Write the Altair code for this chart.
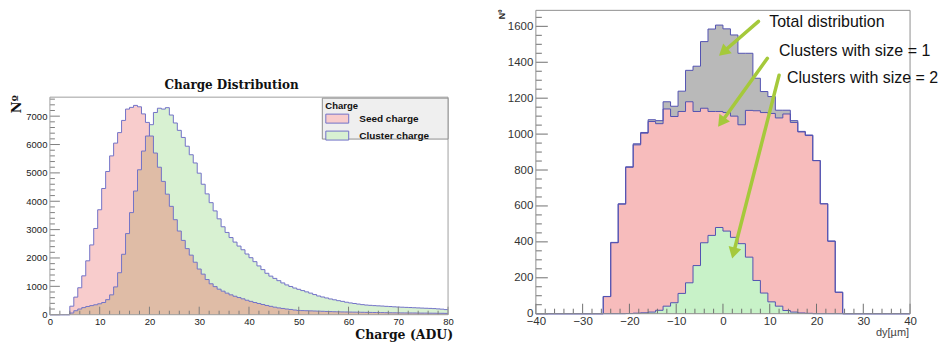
import math
import altair as alt
import pandas as pd

# ------------------------------------------------------------------
# Left panel : charge distribution (histograms, bin width 0.8 ADU)
# ------------------------------------------------------------------
charge_lo, charge_hi, charge_bw = 0.0, 80.0, 0.8
seed_counts = [
    0, 0, 0, 0, 0, 300, 620, 950, 1370, 1900,
    2460, 3040, 3700, 4450, 5050, 5600, 6050, 6420, 6850, 7250,
    7310, 7380, 7330, 7080, 6780, 6300, 5700, 5200, 4700, 4250,
    3820, 3350, 2950, 2620, 2330, 2100, 1850, 1610, 1430, 1240,
    1090, 990, 900, 830, 760, 700, 650, 605, 560, 510,
    470, 430, 395, 360, 325, 295, 265, 240, 220, 200,
    185, 165, 150, 145, 140, 135, 130, 125, 120, 115,
    110, 105, 102, 98, 96, 93, 90, 88, 85, 82,
    80, 78, 76, 74, 70, 68, 66, 65, 63, 62,
    61, 60, 58, 56, 55, 53, 52, 50, 49, 47,
]
cluster_counts = [
    0, 0, 0, 0, 0, 60, 140, 200, 250, 290,
    320, 350, 385, 430, 530, 700, 980, 1480, 2130, 2860,
    3600, 4360, 5110, 5770, 6300, 6700, 7130, 7280, 7250, 7300,
    7040, 6760, 6500, 6250, 5940, 5640, 5350, 4990, 4600, 4260,
    3950, 3660, 3380, 3100, 2900, 2720, 2560, 2420, 2290, 2140,
    2010, 1870, 1720, 1590, 1460, 1360, 1280, 1200, 1120, 1050,
    995, 940, 895, 850, 805, 760, 710, 660, 625, 590,
    555, 525, 495, 470, 440, 415, 395, 375, 355, 340,
    330, 320, 312, 305, 295, 287, 278, 270, 264, 258,
    252, 246, 240, 233, 227, 222, 215, 205, 195, 180,
]
charge_names = ["Seed charge", "Cluster charge"]
charge_x_labels = [0, 10, 20, 30, 40, 50, 60, 70, 80]
charge_y_labels = [0, 1000, 2000, 3000, 4000, 5000, 6000, 7000]
charge_y_top = 7670
charge_title = "Charge Distribution"
charge_title_pos = [36.5, 8110]
charge_xtitle = "Charge (ADU)"
legend_title = "Charge"
ytitle = "Nº"

# ------------------------------------------------------------------
# Right panel : dy residuals (bin width 1.6 um, non-empty from -25.6)
# ------------------------------------------------------------------
dy_lo, dy_hi, dy_bw = -40.0, 40.0, 1.6
dy_first = -25.6
total_core = [96, 397, 612, 818, 946, 1009, 1080, 1075, 1180, 1155,
              1239, 1355, 1378, 1515, 1585, 1607, 1586, 1552, 1450, 1450,
              1311, 1237, 1209, 1133, 1133, 1075, 1015, 995, 853, 612,
              405, 120]
size1_core = [95, 395, 610, 815, 940, 1005, 1070, 1058, 1140, 1098,
              1126, 1180, 1126, 1144, 1126, 1126, 1120, 1100, 1052, 1132,
              1130, 1120, 1115, 1090, 1112, 1065, 1012, 992, 852, 612,
              403, 119]
size2_core = [0, 0, 0, 1, 3, 5, 9, 19, 42, 61,
              113, 172, 268, 395, 436, 480, 460, 425, 390, 315,
              185, 115, 66, 42, 18, 9, 4, 2, 0, 0,
              0, 0]
dy_names = ["Total", "Size 1", "Size 2"]
dy_x_labels = [-40, -30, -20, -10, 0, 10, 20, 30, 40]
dy_y_labels = [0, 200, 400, 600, 800, 1000, 1200, 1400, 1600]
dy_y_top = 1689
dy_xtitle = "dy[µm]"
note_text = ["Total distribution", "Clusters with size = 1", "Clusters with size = 2"]
note_x = [9.9, 12.0, 13.7]
note_y = [1622, 1461, 1311]
arrow_x0 = [7.6, 9.5, 12.0]
arrow_y0 = [1628, 1422, 1328]
arrow_x1 = [-0.75, -0.96, 2.0]
arrow_y1 = [1439, 1044, 311]

# ------------------------------------------------------------------
# styles
# ------------------------------------------------------------------
LW, LH = 399, 305
L_FRAME_H = 218
RW, RH = 375, 304
SANS = "Liberation Sans"
SERIF = "DejaVu Serif"
pink_l, green_l, brown_l = "#f8cccc", "#d8f1d2", "#dfbca6"
gray_r, red_r, green_r = "#b9b9b9", "#f7bcbc", "#c8f2c8"
blue_l, blue_r = "#7272c8", "#5252b2"
lime = "#a5c93b"
tick_col = "#808080"
frame_col = "#a0a0a0"

ly_max = charge_y_top * LH / L_FRAME_H


def hist_rows(lo, bw, counts, name):
    rows = [{"x": round(lo + i * bw, 4), "y": c, "s": name} for i, c in enumerate(counts)]
    rows.append({"x": round(lo + len(counts) * bw, 4), "y": counts[-1], "s": name})
    return rows


# ---------------- scales and axes ----------------
lx = alt.Scale(domain=[charge_lo, charge_hi], nice=False, zero=False)
ly = alt.Scale(domain=[0, ly_max], nice=False)
rx = alt.Scale(domain=[dy_lo, dy_hi], nice=False, zero=False)
ry = alt.Scale(domain=[0, dy_y_top], nice=False)

ax_lx = alt.Axis(values=charge_x_labels, title="", ticks=False, domain=False, grid=False,
                 format="d", labelFontSize=9.5, labelColor="#222", labelPadding=2,
                 labelFlush=False, labelOverlap=False)
ax_ly = alt.Axis(values=charge_y_labels, title="", ticks=False, domain=False, grid=False,
                 format="d", labelFontSize=9.5, labelColor="#222", labelPadding=3,
                 labelOverlap=False)
ax_rx = alt.Axis(values=dy_x_labels, title="", ticks=False, domain=False, grid=False,
                 format="d", labelFontSize=11.5, labelColor="#333", labelPadding=2,
                 labelFlush=False, labelOverlap=False)
ax_ry = alt.Axis(values=dy_y_labels, title="", ticks=False, domain=False, grid=False,
                 format="d", labelFontSize=11.5, labelColor="#333", labelPadding=3,
                 labelOverlap=False)


def X(field, scale, axis):
    return alt.X(field, scale=scale, axis=axis)


def Y(field, scale, axis):
    return alt.Y(field, scale=scale, axis=axis, stack=None)


def tick_layer(values, xs, ys, xa, ya, orient, length, plot_h, color):
    df = pd.DataFrame({"v": values})
    if orient == "y":
        return alt.Chart(df).mark_rule(color=color, strokeWidth=1).encode(
            y=Y("v:Q", ys, ya), x=alt.value(0), x2=alt.value(length))
    return alt.Chart(df).mark_rule(color=color, strokeWidth=1).encode(
        x=X("v:Q", xs, xa), y=alt.value(plot_h), y2=alt.value(plot_h - length))


def frame_layer(x0, x1, y0, y1, xs, ys, xa, ya, color):
    df = pd.DataFrame({"x0": [x0], "x1": [x1], "y0": [y0], "y1": [y1]})
    return alt.Chart(df).mark_rect(fillOpacity=0, stroke=color, strokeWidth=1).encode(
        x=X("x0:Q", xs, xa), x2="x1:Q", y=Y("y0:Q", ys, ya), y2="y1:Q")


def text_px(text, x, y, **kw):
    return alt.Chart(pd.DataFrame({"t": [text]})).mark_text(**kw).encode(
        text="t:N", x=alt.value(x), y=alt.value(y))


# ---------------- left panel ----------------
left_df = pd.DataFrame(hist_rows(charge_lo, charge_bw, seed_counts, charge_names[0])
                       + hist_rows(charge_lo, charge_bw, cluster_counts, charge_names[1]))
overlap_df = pd.DataFrame(hist_rows(charge_lo, charge_bw,
                                    [min(a, b) for a, b in zip(seed_counts, cluster_counts)], "both"))

LEG_X, LEG_Y, LEG_W, LEG_H = 273, 88, 126, 41
left_area = alt.Chart(left_df).mark_area(interpolate="step-after").encode(
    x=X("x:Q", lx, ax_lx),
    y=Y("y:Q", ly, ax_ly),
    color=alt.Color("s:N", scale=alt.Scale(domain=charge_names, range=[pink_l, green_l]),
                    legend=alt.Legend(
                        title=legend_title, orient="none", legendX=LEG_X, legendY=LEG_Y,
                        direction="vertical",
                        padding=3, titleFont=SANS, titleFontSize=9.5, titleFontWeight="bold",
                        titleColor="#111", titlePadding=3, labelFont=SANS, labelFontSize=10,
                        labelFontWeight="bold", labelColor="#111", labelOffset=24,
                        symbolType="M-1,-1H4.1V1H-1Z", symbolSize=81,
                        symbolStrokeColor=blue_l, symbolStrokeWidth=1, symbolOpacity=1,
                        rowPadding=3)),
)
legend_box = alt.Chart(pd.DataFrame({"t": [legend_title]})).mark_rect(
    fill="#efefef", stroke="#909090", strokeWidth=1).encode(
    x=alt.value(LEG_X), x2=alt.value(LEG_X + LEG_W),
    y=alt.value(LEG_Y), y2=alt.value(LEG_Y + LEG_H))
left_overlap = alt.Chart(overlap_df).mark_area(interpolate="step-after", color=brown_l).encode(
    x=X("x:Q", lx, ax_lx), y=Y("y:Q", ly, ax_ly))
left_lines = alt.Chart(left_df).mark_line(interpolate="step-after", color=blue_l, strokeWidth=1).encode(
    x=X("x:Q", lx, ax_lx), y=Y("y:Q", ly, ax_ly), detail="s:N")

l_ymin = [v for v in range(0, charge_y_top, 200) if v % 1000]
l_xmin = [v for v in range(0, 81, 2) if v % 10]

left_title = alt.Chart(pd.DataFrame({"t": [charge_title], "x": [charge_title_pos[0]],
                                     "y": [charge_title_pos[1]]})).mark_text(
    font=SERIF, fontSize=12, fontWeight="bold", align="center", baseline="middle",
    color="#111").encode(
    text="t:N", x=X("x:Q", lx, ax_lx), y=Y("y:Q", ly, ax_ly))

left = alt.layer(
    left_area, left_overlap, left_lines,
    tick_layer(charge_y_labels, lx, ly, ax_lx, ax_ly, "y", 10, LH, tick_col),
    tick_layer(l_ymin, lx, ly, ax_lx, ax_ly, "y", 5, LH, tick_col),
    tick_layer(charge_x_labels, lx, ly, ax_lx, ax_ly, "x", 8, LH, tick_col),
    tick_layer(l_xmin, lx, ly, ax_lx, ax_ly, "x", 4, LH, tick_col),
    frame_layer(charge_lo, charge_hi, 0, charge_y_top, lx, ly, ax_lx, ax_ly, frame_col),
    legend_box,
    left_title,
    text_px(ytitle, -33, 94, font=SERIF, fontSize=13, fontWeight="bold", angle=270,
            align="center", baseline="middle", color="#111"),
    text_px(charge_xtitle, 404, 325, font=SERIF, fontSize=12.5, fontWeight="bold",
            align="right", baseline="middle", color="#111"),
).properties(width=LW, height=LH)

# ---------------- right panel ----------------
n_bins = int(round((dy_hi - dy_lo) / dy_bw))
n_pre = int(round((dy_first - dy_lo) / dy_bw))
n_post = n_bins - n_pre - len(total_core)


def full(core):
    return [0] * n_pre + core + [0] * n_post


series_r = [full(total_core), full(size1_core), full(size2_core)]
right_dfs = [pd.DataFrame(hist_rows(dy_lo, dy_bw, c, n)) for c, n in zip(series_r, dy_names)]
right_all = pd.concat(right_dfs, ignore_index=True)

r_areas = [alt.Chart(df).mark_area(interpolate="step-after", color=col).encode(
    x=X("x:Q", rx, ax_rx), y=Y("y:Q", ry, ax_ry))
    for df, col in zip(right_dfs, [gray_r, red_r, green_r])]

r_lines = alt.Chart(right_all).mark_line(interpolate="step-after", color=blue_r, strokeWidth=1).encode(
    x=X("x:Q", rx, ax_rx), y=Y("y:Q", ry, ax_ry), detail="s:N")


def px_x(v):
    return (v - dy_lo) / (dy_hi - dy_lo) * RW


def px_y(v):
    return RH - v / dy_y_top * RH


head_x, head_y, head_ang = [], [], []
for x0, y0, x1, y1 in zip(arrow_x0, arrow_y0, arrow_x1, arrow_y1):
    dx, dyp = px_x(x1) - px_x(x0), px_y(y1) - px_y(y0)
    ln = math.hypot(dx, dyp)
    ux, uy = dx / ln, dyp / ln
    cx, cy = px_x(x1) - 5 * ux, px_y(y1) - 5 * uy
    head_x.append(cx / RW * (dy_hi - dy_lo) + dy_lo)
    head_y.append((RH - cy) / RH * dy_y_top)
    head_ang.append(math.degrees(math.atan2(dx, -dyp)) % 360)

arrow_df = pd.DataFrame({"x0": arrow_x0, "y0": arrow_y0, "hx": head_x, "hy": head_y, "ang": head_ang})
arrow_shafts = alt.Chart(arrow_df).mark_rule(color=lime, strokeWidth=3.5, strokeCap="round").encode(
    x=X("x0:Q", rx, ax_rx), y=Y("y0:Q", ry, ax_ry), x2="hx:Q", y2="hy:Q")
arrow_heads = alt.Chart(arrow_df).mark_point(shape="triangle-up", filled=True, size=170,
                                             color=lime, opacity=1).encode(
    x=X("hx:Q", rx, ax_rx), y=Y("hy:Q", ry, ax_ry),
    angle=alt.Angle("ang:Q", scale=None))
notes = alt.Chart(pd.DataFrame({"t": note_text, "x": note_x, "y": note_y})).mark_text(
    font=SANS, fontSize=16, align="left", baseline="middle", color="#111").encode(
    text="t:N", x=X("x:Q", rx, ax_rx), y=Y("y:Q", ry, ax_ry))

r_ymin = [v for v in range(0, dy_y_top, 50) if v % 200]
r_xmin = [v for v in range(-40, 41, 2) if v % 10]

right = alt.layer(
    *r_areas, r_lines,
    tick_layer(dy_y_labels, rx, ry, ax_rx, ax_ry, "y", 12, RH, "#707070"),
    tick_layer(r_ymin, rx, ry, ax_rx, ax_ry, "y", 6, RH, "#707070"),
    tick_layer(dy_x_labels, rx, ry, ax_rx, ax_ry, "x", 10, RH, "#707070"),
    tick_layer(r_xmin, rx, ry, ax_rx, ax_ry, "x", 5, RH, "#707070"),
    frame_layer(dy_lo, dy_hi, 0, dy_y_top, rx, ry, ax_rx, ax_ry, "#909090"),
    arrow_shafts, arrow_heads, notes,
    text_px(ytitle, -34, 4, font=SANS, fontSize=9, fontWeight="bold", angle=270,
            align="center", baseline="middle", color="#222"),
    text_px(dy_xtitle, 374, 323, font=SANS, fontSize=11, align="right",
            baseline="middle", color="#444"),
).properties(width=RW, height=RH)

chart = alt.hconcat(left, right, spacing=44).properties(
    padding={"left": 3, "top": 1, "right": 0, "bottom": 0}, background="white"
).configure_view(strokeWidth=0).configure_axis(labelFont=SANS)

chart.save("out.html", embed_options={"renderer": "svg", "actions": False})
